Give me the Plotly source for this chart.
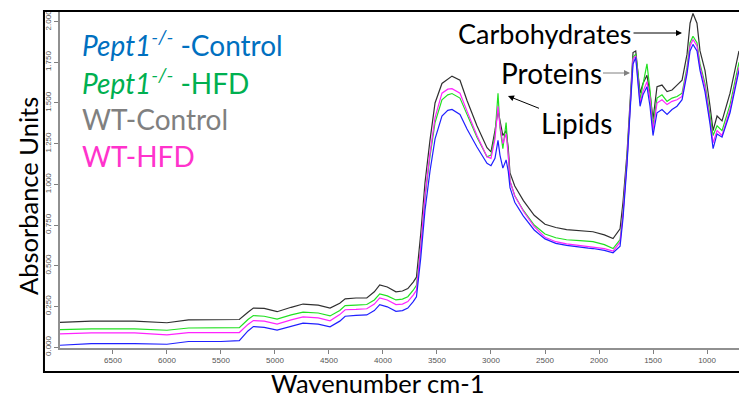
import plotly.graph_objects as go

# Shared wavenumber grid (cm-1)
wavenumber = [6990, 6700, 6300, 6000, 5800, 5500, 5330, 5250, 5200, 5100, 4980, 4850, 4740, 4600,
              4490, 4400, 4350, 4250, 4150, 4080, 4030, 3960, 3880, 3820, 3770, 3720, 3690, 3650,
              3611, 3565, 3518, 3454, 3400, 3361, 3287, 3222, 3130, 3037, 3000, 2963, 2935, 2917,
              2890, 2860, 2840, 2824, 2780, 2700, 2600, 2500, 2400, 2300, 2176, 2100, 2056, 1950,
              1870, 1805, 1778, 1741, 1713, 1685, 1660, 1639, 1620, 1593, 1556, 1528, 1500, 1463,
              1417, 1370, 1324, 1278, 1231, 1185, 1157, 1130, 1093, 1065, 1019, 972, 944, 907,
              861, 787, 722, 704]

wt_control = [0.152, 0.160, 0.160, 0.150, 0.168, 0.168, 0.170, 0.215, 0.240, 0.238, 0.218, 0.245, 0.265, 0.258,
              0.240, 0.270, 0.297, 0.302, 0.303, 0.340, 0.382, 0.370, 0.340, 0.345, 0.360, 0.400, 0.430, 0.700,
              1.010, 1.270, 1.500, 1.620, 1.645, 1.665, 1.640, 1.515, 1.360, 1.225, 1.200, 1.330, 1.455, 1.390,
              1.300, 1.330, 1.220, 1.070, 0.990, 0.900, 0.810, 0.755, 0.735, 0.722, 0.715, 0.712, 0.709, 0.690,
              0.667, 0.727, 0.890, 1.190, 1.500, 1.810, 1.820, 1.700, 1.560, 1.620, 1.670, 1.560, 1.400, 1.600,
              1.610, 1.570, 1.580, 1.610, 1.640, 1.800, 1.990, 2.050, 1.990, 1.820, 1.700, 1.480, 1.330, 1.420,
              1.390, 1.560, 1.780, 1.820]

pept1_hfd = [0.108, 0.112, 0.112, 0.104, 0.118, 0.118, 0.120, 0.170, 0.194, 0.190, 0.172, 0.198, 0.215, 0.210,
             0.192, 0.225, 0.255, 0.258, 0.262, 0.290, 0.327, 0.315, 0.290, 0.295, 0.310, 0.350, 0.380, 0.620,
             0.920, 1.170, 1.380, 1.520, 1.550, 1.558, 1.530, 1.430, 1.290, 1.170, 1.180, 1.300, 1.560, 1.350,
             1.220, 1.380, 1.200, 1.020, 0.930, 0.840, 0.750, 0.695, 0.672, 0.660, 0.655, 0.650, 0.648, 0.630,
             0.606, 0.660, 0.830, 1.150, 1.470, 1.780, 1.800, 1.680, 1.520, 1.620, 1.740, 1.580, 1.360, 1.530,
             1.550, 1.510, 1.530, 1.540, 1.560, 1.720, 1.870, 1.910, 1.870, 1.740, 1.620, 1.420, 1.300, 1.360,
             1.330, 1.490, 1.710, 1.750]

wt_hfd = [0.082, 0.088, 0.088, 0.076, 0.090, 0.088, 0.090, 0.140, 0.164, 0.160, 0.142, 0.168, 0.186, 0.180,
          0.162, 0.200, 0.230, 0.232, 0.236, 0.265, 0.303, 0.290, 0.262, 0.265, 0.280, 0.320, 0.350, 0.620,
          0.930, 1.190, 1.410, 1.560, 1.585, 1.588, 1.560, 1.450, 1.300, 1.170, 1.160, 1.280, 1.480, 1.360,
          1.250, 1.310, 1.180, 1.020, 0.930, 0.835, 0.740, 0.675, 0.648, 0.635, 0.625, 0.620, 0.618, 0.605,
          0.590, 0.645, 0.820, 1.140, 1.460, 1.770, 1.790, 1.660, 1.500, 1.570, 1.630, 1.530, 1.330, 1.500,
          1.520, 1.490, 1.510, 1.520, 1.540, 1.700, 1.850, 1.890, 1.850, 1.720, 1.600, 1.390, 1.255, 1.330,
          1.300, 1.460, 1.680, 1.720]

pept1_control = [0.012, 0.022, 0.022, 0.018, 0.035, 0.035, 0.040, 0.100, 0.127, 0.122, 0.105, 0.130, 0.148, 0.142,
                 0.125, 0.160, 0.190, 0.195, 0.198, 0.225, 0.261, 0.248, 0.220, 0.225, 0.240, 0.280, 0.310, 0.550,
                 0.840, 1.080, 1.280, 1.420, 1.455, 1.460, 1.430, 1.340, 1.230, 1.130, 1.115, 1.160, 1.270, 1.180,
                 1.100, 1.150, 1.080, 0.980, 0.890, 0.805, 0.720, 0.665, 0.638, 0.625, 0.612, 0.608, 0.606, 0.595,
                 0.580, 0.620, 0.790, 1.120, 1.440, 1.740, 1.780, 1.630, 1.480, 1.550, 1.600, 1.480, 1.300, 1.440,
                 1.460, 1.430, 1.460, 1.480, 1.520, 1.680, 1.820, 1.860, 1.820, 1.700, 1.570, 1.370, 1.220, 1.310,
                 1.290, 1.440, 1.660, 1.700]

series_names = ["WT-Control", "Pept1-HFD", "WT-HFD", "Pept1-Control"]
series_values = [wt_control, pept1_hfd, wt_hfd, pept1_control]
series_colors = ["#303030", "#22E022", "#FF22FF", "#2020FF"]

y_ticks = [0.0, 0.25, 0.5, 0.75, 1.0, 1.25, 1.5, 1.75, 2.0]
x_ticks = [6500, 6000, 5500, 5000, 4500, 4000, 3500, 3000, 2500, 2000, 1500, 1000]

fig = go.Figure()
for name, vals, col in zip(series_names, series_values, series_colors):
    fig.add_trace(go.Scatter(x=wavenumber, y=vals, mode="lines", name=name,
                             line=dict(color=col, width=1.2), showlegend=False))

FONT = "Lato"
fig.update_layout(
    width=739, height=402, autosize=False,
    margin=dict(l=60, r=0, t=11, b=54, autoexpand=False),
    paper_bgcolor="white", plot_bgcolor="white",
    xaxis=dict(range=[6990, 704], tickvals=x_ticks, ticks="outside", ticklen=4,
               tickcolor="#808080", showline=True, linecolor="#909090", linewidth=1.5,
               showgrid=False, zeroline=False, automargin=False,
               tickfont=dict(family="Liberation Sans", size=8, color="#555555")),
    yaxis=dict(range=[-0.005, 2.065], tickvals=y_ticks, tickformat=".3f", tickangle=-90,
               ticks="outside", ticklen=4, tickcolor="#808080", showline=True,
               linecolor="#909090", linewidth=1.5, showgrid=False, zeroline=False, automargin=False,
               tickfont=dict(family="Liberation Sans", size=8, color="#555555")),
)

# outer frame
fig.add_shape(type="rect", xref="paper", yref="paper", x0=-0.0236, x1=1.01, y0=-0.0712, y1=1.0,
              line=dict(color="black", width=2), fillcolor="rgba(0,0,0,0)", layer="above")

# axis titles
fig.add_annotation(text="Absorbance Units", xref="paper", yref="paper", x=-0.047, y=(348 - 196) / 337,
                   textangle=-90, showarrow=False, font=dict(family=FONT, size=25.5, color="black"),
                   xanchor="center", yanchor="middle")
fig.add_annotation(text="Wavenumber cm-1", xref="paper", yref="paper", x=0.468, y=-0.104,
                   showarrow=False, font=dict(family=FONT, size=25.5, color="black"),
                   xanchor="center", yanchor="middle")

# legend text
legend_items = [
    ("<i>Pept1<sup>-/-</sup></i> -Control", "#0070C0", 0.905),
    ("<i>Pept1<sup>-/-</sup></i> -HFD", "#00B050", 0.792),
    ("WT-Control", "#808080", 0.680),
    ("WT-HFD", "#FF33CC", 0.570),
]
for txt, col, yy in legend_items:
    fig.add_annotation(text=txt, xref="paper", yref="paper", x=0.0295, y=yy, showarrow=False,
                       xanchor="left", yanchor="middle", font=dict(family=FONT, size=28, color=col))

# band labels with arrows (text placed via ax/ay offsets from the arrow head)
band_labels = [
    ("Carbohydrates", 682, 33, 545, 33, "black", 27),
    ("Proteins", 630, 73, 551, 73, "#808080", 28),
    ("Lipids", 508, 96, 576, 123, "black", 28),
]
for txt, hx, hy, tx, ty, acol, fs in band_labels:
    fig.add_annotation(text=txt, xref="paper", yref="paper", x=(hx - 60) / 679, y=(348 - hy) / 337,
                       showarrow=True, ax=tx - hx, ay=ty - hy, arrowhead=2, arrowsize=1.2,
                       arrowwidth=1, arrowcolor=acol, standoff=0,
                       font=dict(family=FONT, size=fs, color="black"))

fig.write_html("out.html", config={"displayModeBar": False},
               post_script="document.body.style.margin='0px';")
